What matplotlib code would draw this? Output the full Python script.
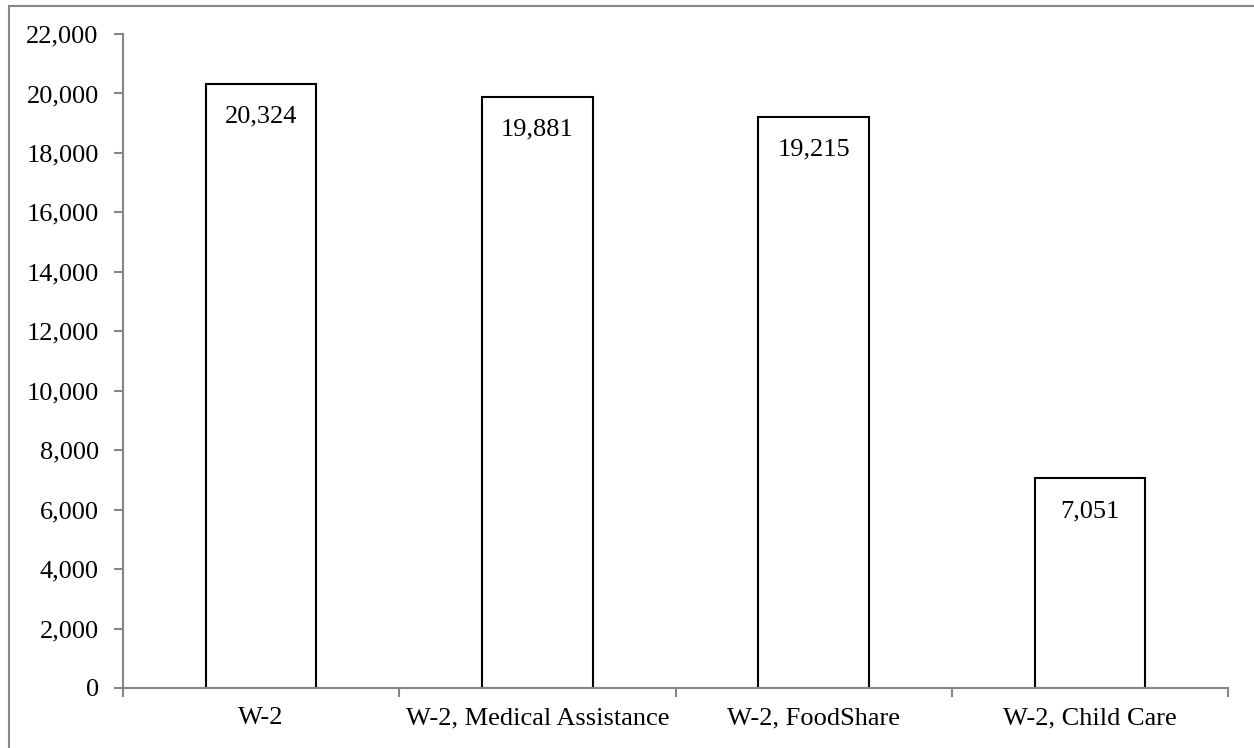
import matplotlib.pyplot as plt
from matplotlib.patches import Rectangle
from matplotlib.ticker import FuncFormatter, FixedLocator
import numpy as np

categories = ["W-2", "W-2, Medical Assistance", "W-2, FoodShare", "W-2, Child Care"]
values = [20324, 19881, 19215, 7051]
y_ticks = list(range(0, 22001, 2000))

plt.rcParams["font.family"] = ["Liberation Serif", "DejaVu Serif"]

fig = plt.figure(figsize=(12.54, 7.48), dpi=100)
ax = fig.add_axes([123 / 1254, 1 - 688 / 748, (1228 - 123) / 1254, (688 - 34) / 748])

x = np.arange(len(categories))
ax.bar(x, values, width=0.4, color="white", edgecolor="black", linewidth=1.5, zorder=2)

for xi, v in zip(x, values):
    ax.annotate(f"{v:,}", (xi, v), xytext=(0, -28), textcoords="offset points",
                ha="center", va="baseline", fontsize=19)

ax.set_xlim(-0.5, len(categories) - 0.5)
ax.set_ylim(0, 22000)
ax.set_yticks(y_ticks)
ax.yaxis.set_major_formatter(FuncFormatter(lambda v, p: f"{int(v):,}"))

# ticks at category boundaries, labels at centres
ax.xaxis.set_major_locator(FixedLocator(np.arange(-0.5, len(categories), 1.0)))
ax.xaxis.set_minor_locator(FixedLocator(x))
ax.set_xticklabels([], minor=False)
ax.set_xticklabels(categories, minor=True)

spine_col = "#868686"
for s in ["top", "right"]:
    ax.spines[s].set_visible(False)
for s in ["left", "bottom"]:
    ax.spines[s].set_color(spine_col)
    ax.spines[s].set_linewidth(1.5)

ax.tick_params(axis="y", which="major", direction="out", length=6.5, width=1.5,
               color=spine_col, pad=11, labelsize=19)
ax.tick_params(axis="x", which="major", direction="out", length=6.5, width=1.5,
               color=spine_col)
ax.tick_params(axis="x", which="minor", length=0, pad=14, labelsize=19)

# outer chart border
fig.patches.append(Rectangle((9 / 1254, -0.1), 2, 1 - 6 / 748 + 0.1,
                             transform=fig.transFigure, fill=False,
                             edgecolor=spine_col, linewidth=1.5))

fig.savefig("out.png", dpi=100)
